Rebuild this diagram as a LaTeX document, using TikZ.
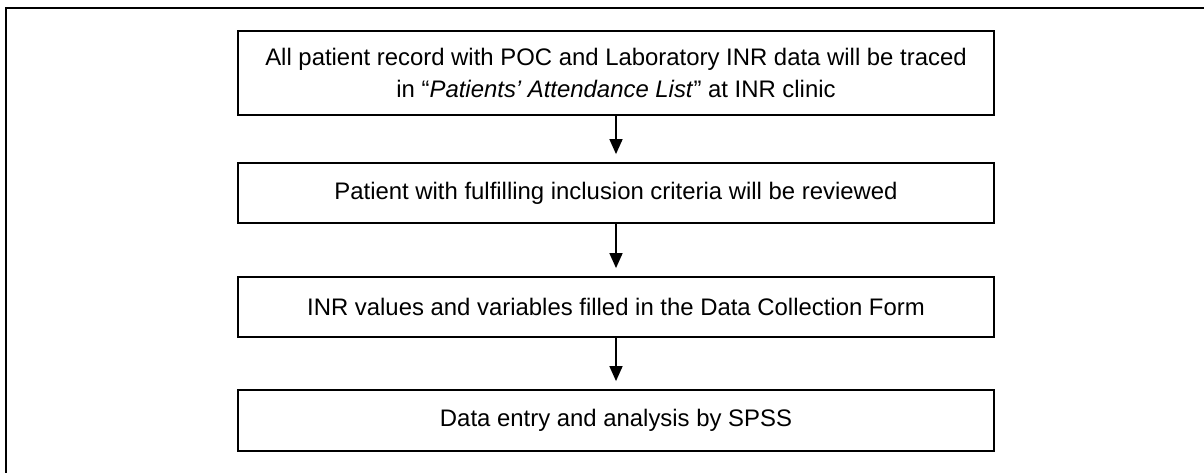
\documentclass[tikz,border=0pt]{standalone}
\usepackage{fontspec}
\setmainfont{Liberation Sans}
\usetikzlibrary{arrows.meta}
\begin{document}
\begin{tikzpicture}[x=1pt,y=1pt,
  flowbox/.style={draw=black,line width=1.8pt,minimum width=756pt,inner sep=0pt,align=center,font=\fontsize{23.9}{32}\selectfont},
  flowarrow/.style={line width=1.6pt,-{Triangle[width=13pt,length=15pt]}}]
\useasboundingbox (0,0) rectangle (1204,-473);
\fill[white] (0,0) rectangle (1204,-473);
\coordinate (fb) at (6,-480);
\coordinate (fl) at (6,-8);
\coordinate (fr) at (1210,-8);
\draw[line width=2.4pt] (fb) -- (fl) -- (fr);
\node[flowbox,minimum height=84pt] (b1) at (616,-73) {All patient record with POC and Laboratory INR data will be traced\\in ``\textit{Patients' Attendance List}'' at INR clinic};
\node[flowbox,minimum height=60pt] (b2) at (616,-193) {Patient with fulfilling inclusion criteria will be reviewed};
\node[flowbox,minimum height=60pt] (b3) at (616,-307) {INR values and variables filled in the Data Collection Form};
\node[flowbox,minimum height=61pt] (b4) at (616,-420.5) {Data entry and analysis by SPSS};
\draw[flowarrow] (b1.south) -- ([yshift=8pt]b2.north);
\draw[flowarrow] (b2.south) -- ([yshift=8pt]b3.north);
\draw[flowarrow] (b3.south) -- ([yshift=8pt]b4.north);
\end{tikzpicture}
\end{document}
